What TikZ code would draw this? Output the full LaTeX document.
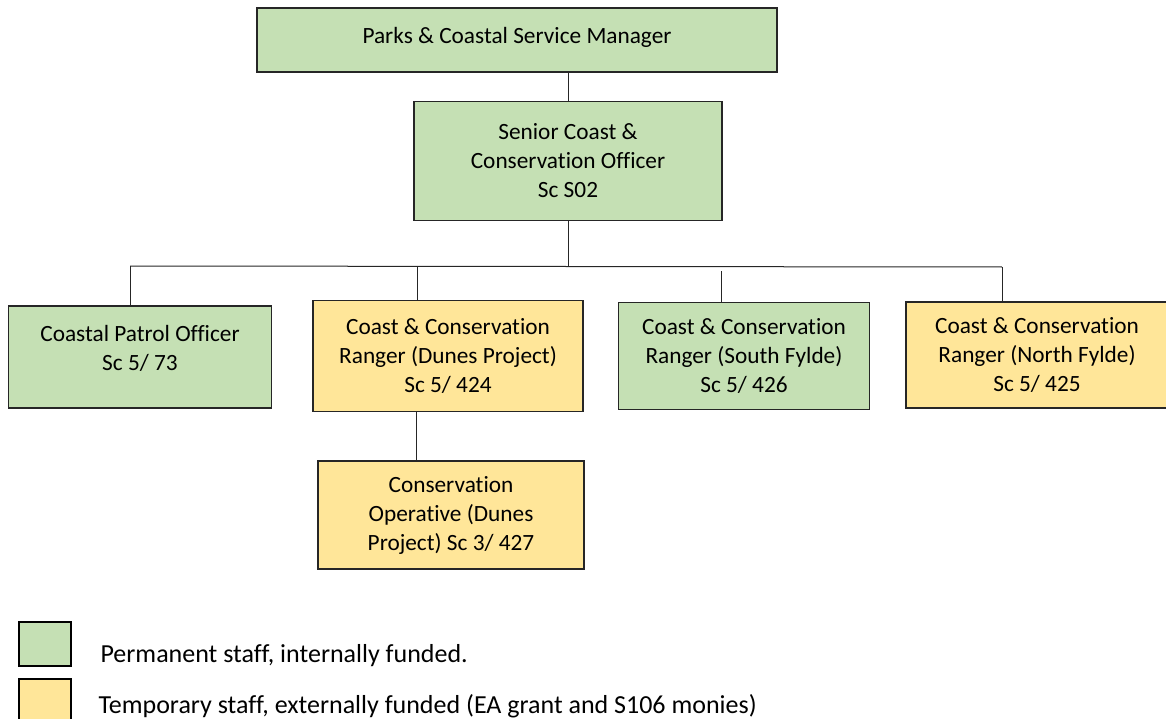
\documentclass[tikz,border=0pt]{standalone}
\usepackage{fontspec}
\setmainfont{Carlito}[Ligatures=NoCommon]
\usepackage{tikz}
\usetikzlibrary{positioning,calc}

\definecolor{permgreen}{HTML}{C5E0B4}
\definecolor{tempyellow}{HTML}{FFE699}

\tikzset{
    post/.style={draw=black!85, line width=1.1pt, align=center, inner sep=0pt,
        font=\fontsize{23.3}{29}\selectfont},
    perm/.style={post, fill=permgreen},
    temp/.style={post, fill=tempyellow},
    key/.style={draw=black, line width=1.6pt, minimum width=52, minimum height=44, inner sep=0pt},
    keytext/.style={anchor=base west, font=\fontsize{26}{30}\selectfont},
    wire/.style={draw=black!85, line width=1pt}
}

\begin{document}
\begin{tikzpicture}[x=1pt, y=-1pt]
    \useasboundingbox (0,0) rectangle (1166,719);

    % posts
    \node[perm, minimum width=520, minimum height=64] (manager) at (517,40) {\raisebox{10pt}{Parks \& Coastal Service Manager}};
    \node[perm, minimum width=308, minimum height=119] (senior) at (568,161) {Senior Coast \&\\Conservation Officer\\Sc S02};
    \node[perm, minimum width=263, minimum height=102] (patrol) at (140,357) {Coastal Patrol Officer\\Sc 5/ 73\\[-10pt]~};
    \node[temp, minimum width=270, minimum height=111] (dunes) at (448,356) {Coast \& Conservation\\Ranger (Dunes Project)\\Sc 5/ 424};
    \node[temp, minimum width=266, minimum height=108] (operative) at (451,515) {Conservation\\Operative (Dunes\\Project) Sc 3/ 427};
    \node[perm, minimum width=251, minimum height=107] (south) at (744,356) {Coast \& Conservation\\Ranger (South Fylde)\\Sc 5/ 426};
    \node[temp, minimum width=262, minimum height=106] (north) at (1037,355) {Coast \& Conservation\\Ranger (North Fylde)\\Sc 5/ 425};

    % bus
    \coordinate (busleft) at (130,266);
    \coordinate (busright) at (1002,267);
    \coordinate (busmid) at (senior.south |- busleft);

    \draw[wire] (manager.south -| senior.north) -- (senior.north);
    \draw[wire] (senior.south) -- (busmid);
    \draw[wire] (busleft) -- (busright);
    \draw[wire] (busleft) -- (busleft |- patrol.north);
    \draw[wire] (417,266) -- (417,0 |- dunes.north);
    \draw[wire] (721,271) -- (721,0 |- south.north);
    \draw[wire] (busright) -- (busright |- north.north);
    \draw[wire] (416,0 |- dunes.south) -- (416,0 |- operative.north);

    % key
    \node[key, fill=permgreen, anchor=north west] (keyperm) at (18,621) {};
    \node[key, fill=tempyellow, anchor=north west] (keytemp) at (18,678) {};
    \node[keytext] (permtext) at (97,662) {Permanent staff, internally funded.};
    \node[keytext] (temptext) at (95,713) {Temporary staff, externally funded (EA grant and S106 monies)};
\end{tikzpicture}
\end{document}
